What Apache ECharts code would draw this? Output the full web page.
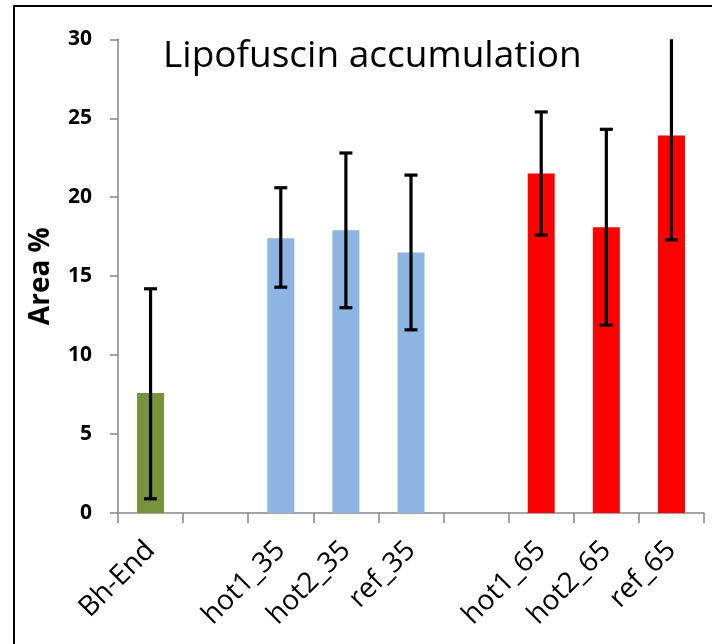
<!DOCTYPE html>
<html>
<head>
<meta charset="utf-8">
<style>
  html, body { margin: 0; padding: 0; background: #fff; }
  #chart { width: 712px; height: 644px; }
</style>
<script src="https://cdn.jsdelivr.net/npm/echarts@6/dist/echarts.min.js"></script>
</head>
<body>
<div id="chart"></div>
<script>
// Sample groups along the x axis (empty slots separate the groups)
const categories = ['Bh-End', '', 'hot1_35', 'hot2_35', 'ref_35', '', 'hot1_65', 'hot2_65', 'ref_65'];
const groups     = ['end',    '', 't35',     't35',     't35',    '', 't65',     't65',     't65'];
// Mean lipofuscin area (%)
const areaMean   = [7.6, null, 17.4, 17.9, 16.5, null, 21.5, 18.1, 23.9];
// Error bar limits (mean ± SD)
const errLow     = [0.9, null, 14.3, 13.0, 11.6, null, 17.6, 11.9, 17.3];
const errHigh    = [14.2, null, 20.6, 22.8, 21.4, null, 25.4, 24.3, 30.5];
const yTicks     = [0, 5, 10, 15, 20, 25, 30];

const groupColor = { end: '#77933C', t35: '#8EB4E3', t65: '#FF0000' };
const Y_MIN = yTicks[0], Y_MAX = yTicks[yTicks.length - 1];

const barData = areaMean.map((v, i) => v == null ? null : {
  value: v,
  itemStyle: { color: groupColor[groups[i]] }
});
const errData = categories.map((c, i) => errLow[i] == null ? null : [i, errLow[i], errHigh[i]]);

const chart = echarts.init(document.getElementById('chart'));
chart.setOption({
  animation: false,
  backgroundColor: '#fff',
  title: {
    text: 'Lipofuscin accumulation',
    left: 158,
    top: 33,
    textStyle: { fontFamily: 'Open Sans', fontWeight: 'normal', fontSize: 37, color: '#000' }
  },
  graphic: [{
    type: 'rect',
    shape: { x: 14, y: 6, width: 760, height: 700 },
    style: { fill: 'none', stroke: '#000', lineWidth: 2 },
    silent: true,
    z: 100
  }],
  grid: { left: 118, right: 8, top: 39.3, bottom: 131, containLabel: false },
  xAxis: {
    type: 'category',
    data: categories,
    axisLine: { lineStyle: { color: '#868686', width: 1.5 } },
    axisTick: { show: true, interval: 0, length: 10, lineStyle: { color: '#868686', width: 1.5 } },
    axisLabel: {
      interval: 0, rotate: 45, margin: 33,
      fontFamily: 'Open Sans', fontSize: 28, color: '#000'
    }
  },
  yAxis: {
    type: 'value',
    min: Y_MIN, max: Y_MAX, interval: 5,
    name: 'Area %',
    nameLocation: 'middle',
    nameGap: 63,
    nameTextStyle: { fontFamily: 'Open Sans', fontWeight: 'bold', fontSize: 28, color: '#000' },
    splitLine: { show: false },
    axisLine: { show: true, lineStyle: { color: '#868686', width: 1.5 } },
    axisTick: { show: true, length: 8, lineStyle: { color: '#868686', width: 1.5 } },
    axisLabel: {
      margin: 26, fontFamily: 'Open Sans', fontWeight: 'bold', fontSize: 21, color: '#000',
      formatter: v => yTicks.includes(v) ? String(v) : ''
    }
  },
  series: [
    {
      type: 'bar',
      data: barData,
      barWidth: 27,
      z: 2
    },
    {
      type: 'custom',
      data: errData,
      z: 5,
      renderItem: function (params, api) {
        const x = api.value(0);
        const lo = api.value(1);
        const hi = api.value(2);
        const hiClipped = Math.min(hi, Y_MAX);
        const pLo = api.coord([x, lo]);
        const pHi = api.coord([x, hiClipped]);
        const half = 6.5;
        const style = { stroke: '#000', lineWidth: 3.2 };
        const children = [
          { type: 'line', shape: { x1: pLo[0], y1: pLo[1], x2: pHi[0], y2: pHi[1] }, style },
          { type: 'line', shape: { x1: pLo[0] - half, y1: pLo[1], x2: pLo[0] + half, y2: pLo[1] }, style }
        ];
        if (hi <= Y_MAX) {
          children.push({ type: 'line', shape: { x1: pHi[0] - half, y1: pHi[1], x2: pHi[0] + half, y2: pHi[1] }, style });
        }
        return { type: 'group', children };
      }
    }
  ]
});
</script>
</body>
</html>
